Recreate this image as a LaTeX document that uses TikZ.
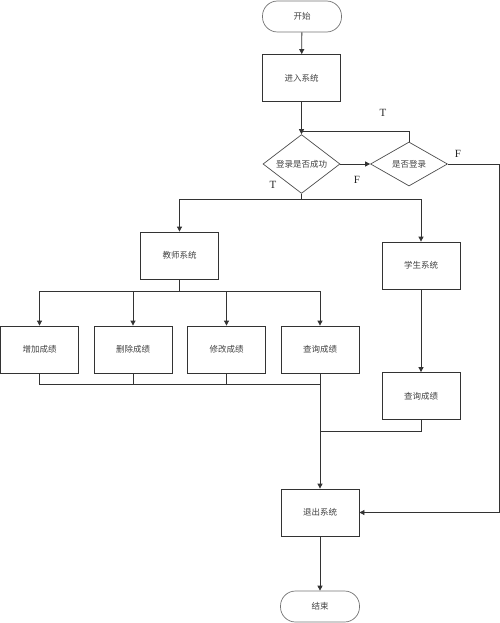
\documentclass[tikz,border=0pt]{standalone}
\usepackage{fontspec}
\setmainfont{Liberation Serif}
\newfontfamily\cjk{Noto Sans CJK SC}
\usetikzlibrary{shapes.geometric,arrows.meta}
\begin{document}
\begin{tikzpicture}[x=1pt,y=-1pt,
  cjktxt/.style={font=\cjk\fontsize{8.5}{10}\selectfont, text=black!75},
  box/.style={cjktxt, draw=black!80, line width=0.8pt, minimum width=78pt, minimum height=47pt, inner sep=0pt},
  term/.style={cjktxt, draw=black!55, line width=0.7pt, rounded corners=15pt, minimum width=79pt, minimum height=31pt, inner sep=0pt},
  dec/.style={cjktxt, diamond, draw=black!70, line width=0.7pt, minimum width=77pt, minimum height=44pt, inner sep=0pt},
  lbl/.style={font=\fontsize{11}{12}\selectfont, text=black!85},
  ln/.style={draw=black!80, line width=0.8pt},
  arr/.style={ln, -{Triangle[length=5pt,width=5pt]}}]
\useasboundingbox (0,0) rectangle (500,623);
% nodes
\node[term] (start) at (302,16.5) {开始};
\node[box] (enter) at (301.5,78) {进入系统};
\node[dec] (d1) at (301.5,164) {登录是否成功};
\node[dec] (d2) at (409,164) {是否登录};
\node[box] (teacher) at (179.5,255.5) {教师系统};
\node[box] (student) at (421,265.5) {学生系统};
\node[box] (add) at (39.5,349.5) {增加成绩};
\node[box] (del) at (133,349.5) {删除成绩};
\node[box] (mod) at (226.5,349.5) {修改成绩};
\node[box] (qry) at (320,349.5) {查询成绩};
\node[box] (qry2) at (421,396) {查询成绩};
\node[box] (exit) at (320,512.5) {退出系统};
\node[term] (endn) at (320,606.5) {结束};
% labels
\node[lbl] (t1) at (383,113) {T};
\node[lbl] (f1) at (357,180) {F};
\node[lbl] (f2) at (458,154) {F};
\node[lbl] (t2) at (273,185) {T};
% helper coordinates
\coordinate (loopj) at (301.5,131);
\coordinate (r1) at (499,164);
\coordinate (s1) at (301.5,199);
\coordinate (s2) at (179.5,291);
\coordinate (m1) at (320,384);
\coordinate (m2) at (320,431);
% connectors
\draw[arr] (start) -- (enter);
\draw[arr] (enter) -- (d1);
\draw[ln] (d2.north) |- (loopj);
\draw[arr] (d1.east) -- (d2.west);
\draw[arr] (d2.east) -- (r1) |- (exit.east);
\draw[ln] (d1.south) -- (s1);
\draw[arr] (s1) -| (teacher.north);
\draw[arr] (s1) -| (student.north);
\draw[ln] (teacher.south) -- (s2);
\draw[arr] (s2) -| (add.north);
\draw[arr] (s2) -| (del.north);
\draw[arr] (s2) -| (mod.north);
\draw[arr] (s2) -| (qry.north);
\draw[ln] (add.south) |- (m1);
\draw[ln] (del.south) -- (del.south |- m1);
\draw[ln] (mod.south) -- (mod.south |- m1);
\draw[arr] (qry.south) -- (exit.north);
\draw[arr] (student.south) -- (qry2.north);
\draw[ln] (qry2.south) |- (m2);
\draw[arr] (exit) -- (endn);
\end{tikzpicture}
\end{document}
